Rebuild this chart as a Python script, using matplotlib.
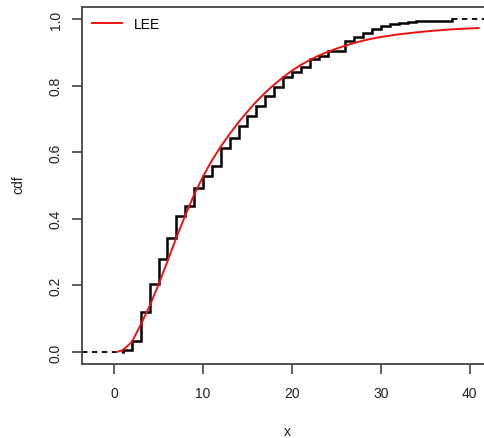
import matplotlib
matplotlib.use("Agg")
import matplotlib.pyplot as plt

plt.rcParams['font.family'] = ['Liberation Sans', 'DejaVu Sans']

# Empirical CDF: jump locations and levels after each jump
ecdf_x = [1, 2, 3, 4, 5, 6, 7, 8, 9, 10, 11, 12, 13, 14, 15, 16, 17, 18, 19, 20,
          21, 22, 23, 24, 26, 27, 28, 29, 30, 31, 32, 33, 34, 38]
ecdf_y = [0.006, 0.034, 0.121, 0.203, 0.278, 0.341, 0.408, 0.437, 0.491, 0.529,
          0.559, 0.612, 0.642, 0.680, 0.710, 0.740, 0.768, 0.795, 0.825, 0.840,
          0.855, 0.880, 0.890, 0.905, 0.935, 0.945, 0.958, 0.970, 0.978, 0.985,
          0.988, 0.992, 0.995, 1.000]

# Fitted LEE CDF
lee_x = [0.3, 1, 2, 3, 4, 5, 6, 7, 8, 9, 10, 11, 12, 13, 14, 15, 16, 17, 18, 19,
         20, 21, 22, 23, 24, 25, 26, 27, 28, 29, 30, 32, 34, 36, 38, 41]
lee_y = [0.0, 0.006, 0.030, 0.082, 0.138, 0.202, 0.272, 0.343, 0.410, 0.472,
         0.527, 0.575, 0.617, 0.655, 0.690, 0.722, 0.752, 0.779, 0.803, 0.825,
         0.845, 0.862, 0.877, 0.890, 0.901, 0.911, 0.920, 0.928, 0.935, 0.941,
         0.946, 0.954, 0.960, 0.965, 0.969, 0.973]

x_ticks = [0, 10, 20, 30, 40]
y_ticks = [0.0, 0.2, 0.4, 0.6, 0.8, 1.0]
y_ticklabels = ["0.0", "0.2", "0.4", "0.6", "0.8", "1.0"]

fig = plt.figure(figsize=(4.85, 4.39), dpi=100)
ax = fig.add_axes([82 / 485, (439 - 365) / 439, (493 - 82) / 485, (365 - 8) / 439])

xmin, xmax = -3.6, 42.6
ax.set_xlim(xmin, xmax)
ax.set_ylim(-0.036, 1.036)

# dashed extremes
ax.plot([xmin, ecdf_x[0]], [0, 0], color='black', lw=1.3, ls=(0, (3, 2.5)))
ax.plot([ecdf_x[-1], xmax], [1, 1], color='black', lw=1.3, ls=(0, (3, 2.5)))

# step function
sx = [ecdf_x[0]] + ecdf_x + [ecdf_x[-1]]
sy = [0.0] + ecdf_y + [ecdf_y[-1]]
ax.step(sx, sy, where='post', color='black', lw=1.8, solid_joinstyle='miter')

ax.plot(lee_x, lee_y, color='#ee1111', lw=1.4, label='LEE')

ax.set_xticks(x_ticks)
ax.set_yticks(y_ticks)
ax.set_yticklabels(y_ticklabels, rotation=90, va='center')
ax.tick_params(axis='both', direction='out', length=7, width=1.1, color='#333333',
               labelsize=10, labelcolor='#222222')
ax.tick_params(axis='y', pad=7)
ax.tick_params(axis='x', pad=9)

for s in ax.spines.values():
    s.set_color('#444444')
    s.set_linewidth(1.3)
ax.spines['right'].set_visible(False)

fig.text(287 / 485, 1 - 432 / 439, 'x', ha='center', va='center', fontsize=10, color='#222222')
fig.text(18 / 485, 1 - 185 / 439, 'cdf', ha='center', va='center', rotation=90,
         fontsize=10, color='#222222')

leg = ax.legend(loc='upper left', frameon=False, fontsize=10, handlelength=2.2,
                borderaxespad=0.3, bbox_to_anchor=(0.0, 1.0))

fig.savefig('out.png', dpi=100)
